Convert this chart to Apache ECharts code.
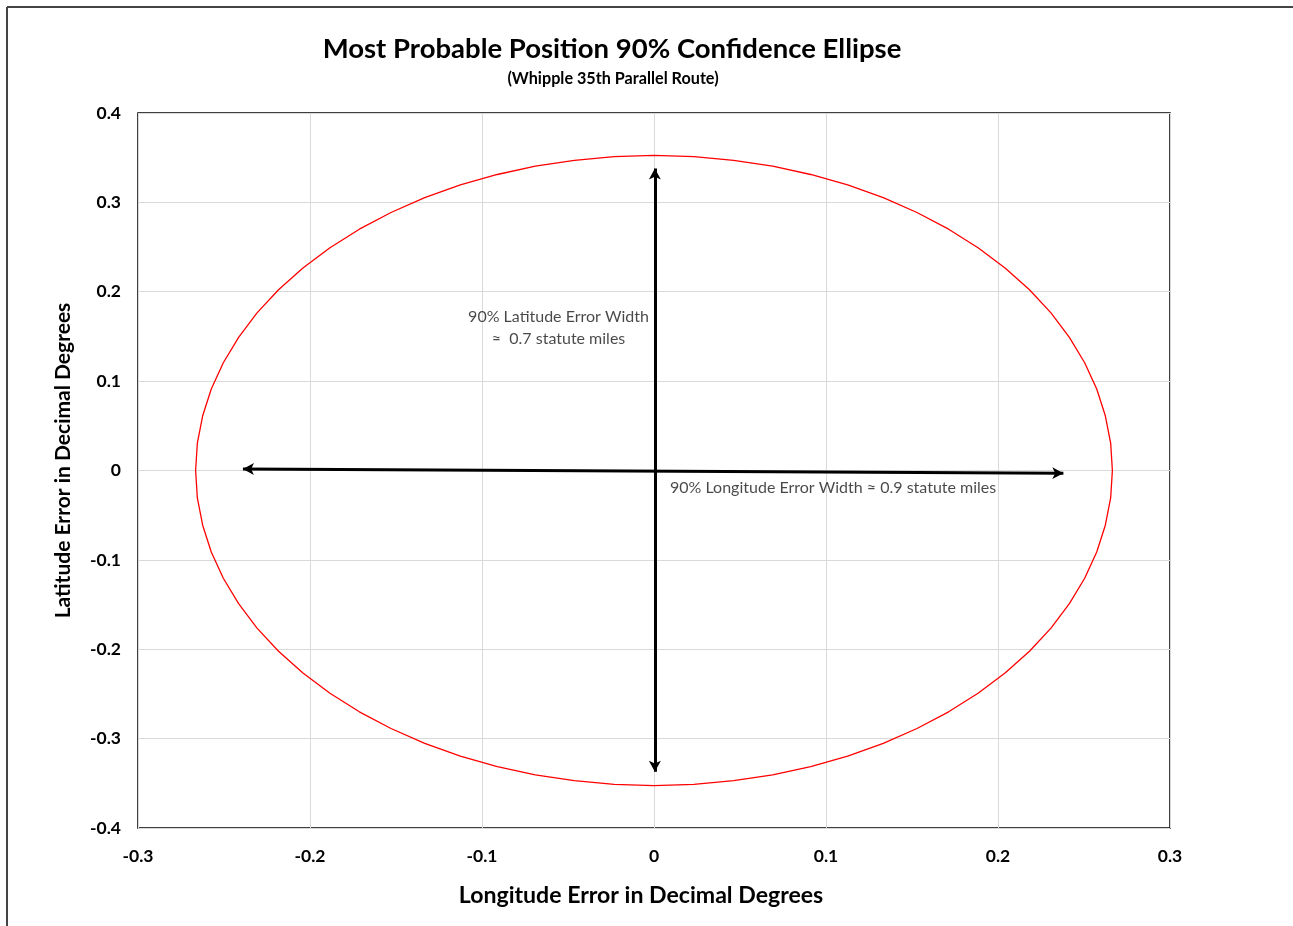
<!DOCTYPE html>
<html><head><meta charset="utf-8">
<script src="https://cdn.jsdelivr.net/npm/echarts@6/dist/echarts.min.js"></script>
<style>html,body{margin:0;padding:0;background:#fff}#c{width:1293px;height:926px}</style>
</head><body><div id="c"></div>
<script>
// Ellipse outline (longitude, latitude error in decimal degrees), every 5 degrees
const ellipseX = [0.2665,0.2655,0.2624,0.2574,0.2504,0.2415,0.2308,0.2183,0.2041,0.1884,0.1713,0.1529,0.1333,0.1126,0.0911,0.0690,0.0463,0.0232,0,
  -0.0232,-0.0463,-0.0690,-0.0911,-0.1126,-0.1333,-0.1529,-0.1713,-0.1884,-0.2041,-0.2183,-0.2308,-0.2415,-0.2504,-0.2574,-0.2624,-0.2655,-0.2665,
  -0.2655,-0.2624,-0.2574,-0.2504,-0.2415,-0.2308,-0.2183,-0.2041,-0.1884,-0.1713,-0.1529,-0.1333,-0.1126,-0.0911,-0.0690,-0.0463,-0.0232,0,
  0.0232,0.0463,0.0690,0.0911,0.1126,0.1333,0.1529,0.1713,0.1884,0.2041,0.2183,0.2308,0.2415,0.2504,0.2574,0.2624,0.2655,0.2665];
const ellipseY = [0,0.0307,0.0612,0.0912,0.1206,0.1490,0.1763,0.2022,0.2266,0.2492,0.2700,0.2887,0.3053,0.3195,0.3312,0.3405,0.3471,0.3512,0.3525,
  0.3512,0.3471,0.3405,0.3312,0.3195,0.3053,0.2887,0.2700,0.2492,0.2266,0.2022,0.1763,0.1490,0.1206,0.0912,0.0612,0.0307,0,
  -0.0307,-0.0612,-0.0912,-0.1206,-0.1490,-0.1763,-0.2022,-0.2266,-0.2492,-0.2700,-0.2887,-0.3053,-0.3195,-0.3312,-0.3405,-0.3471,-0.3512,-0.3525,
  -0.3512,-0.3471,-0.3405,-0.3312,-0.3195,-0.3053,-0.2887,-0.2700,-0.2492,-0.2266,-0.2022,-0.1763,-0.1490,-0.1206,-0.0912,-0.0612,-0.0307,0];
// Arrows: [x1, y1, x2, y2]
const lonArrow = [-0.239, 0.0017, 0.238, -0.003];
const latArrow = [0.0005, -0.337, 0.0005, 0.338];
// Annotations: [x, y, text]
const latNote = [-0.0555, 0.160, '90% Latitude Error Width\n≈  0.7 statute miles'];
const lonNote = [0.0093, -0.0196, '90% Longitude Error Width ≈ 0.9 statute miles'];
const xTicks = {min: -0.3, max: 0.3, interval: 0.1};
const yTicks = {min: -0.4, max: 0.4, interval: 0.1};
const titleText = 'Most Probable Position 90% Confidence Ellipse';
const subtitleText = '(Whipple 35th Parallel Route)';
const xName = 'Longitude Error in Decimal Degrees';
const yName = 'Latitude Error in Decimal Degrees';

const FONT = 'Lato, "Open Sans", sans-serif';
const fmt = v => { const r = Math.round(v * 10) / 10; return r === 0 ? '0' : String(r); };
const chart = echarts.init(document.getElementById('c'), null, {renderer: 'canvas'});
const ellipse = ellipseX.map((x, i) => [x, ellipseY[i]]);
chart.setOption({
  animation: false,
  backgroundColor: '#fff',
  title: [
    {text: titleText, left: 607, textAlign: 'center', top: 30,
      textStyle: {fontFamily: FONT, fontWeight: 'bold', fontSize: 27.5, color: '#000'}},
    {text: subtitleText, left: 608, textAlign: 'center', top: 66,
      textStyle: {fontFamily: FONT, fontWeight: 'bold', fontSize: 16.2, color: '#000'}}
  ],
  grid: {left: 138, right: 123, top: 113, bottom: 98, show: true, borderColor: '#000', borderWidth: 1.5, backgroundColor: 'transparent', containLabel: false},
  xAxis: {
    type: 'value', min: xTicks.min, max: xTicks.max, interval: xTicks.interval,
    name: xName, nameLocation: 'middle', nameGap: 56,
    nameTextStyle: {fontFamily: FONT, fontWeight: 'bold', fontSize: 23.1, color: '#000', padding: [0, 26, 0, 0]},
    axisLine: {show: false}, axisTick: {show: false},
    axisLabel: {formatter: fmt, margin: 19, fontFamily: FONT, fontWeight: 'bold', fontSize: 17.5, color: '#000'},
    splitLine: {show: true, lineStyle: {color: '#d9d9d9', width: 1}}
  },
  yAxis: {
    type: 'value', min: yTicks.min, max: yTicks.max, interval: yTicks.interval,
    name: yName, nameLocation: 'middle', nameGap: 64, nameRotate: 90,
    nameTextStyle: {fontFamily: FONT, fontWeight: 'bold', fontSize: 21, color: '#000', padding: [0, 0, 0, 20]},
    axisLine: {show: false}, axisTick: {show: false},
    axisLabel: {formatter: fmt, margin: 17, fontFamily: FONT, fontWeight: 'bold', fontSize: 17.5, color: '#000'},
    splitLine: {show: true, lineStyle: {color: '#d9d9d9', width: 1}}
  },
  series: [
    {
      type: 'line', data: ellipse, smooth: false, showSymbol: false, symbol: 'none',
      lineStyle: {color: '#ff0000', width: 1.3}, z: 3
    },
    {
      type: 'line', data: [], z: 4,
      markLine: {
        silent: true, symbol: ['arrow', 'arrow'], symbolSize: [9, 11],
        lineStyle: {color: '#000', width: 3, type: 'solid'}, label: {show: false},
        data: [
          [{coord: [lonArrow[0], lonArrow[1]]}, {coord: [lonArrow[2], lonArrow[3]]}],
          [{coord: [latArrow[0], latArrow[1]]}, {coord: [latArrow[2], latArrow[3]]}]
        ]
      }
    },
    {
      type: 'scatter', symbolSize: 0, z: 5, silent: true,
      data: [
        {value: [latNote[0], latNote[1]], label: {show: true, position: 'inside', formatter: latNote[2], align: 'center', verticalAlign: 'middle', lineHeight: 22}},
        {value: [lonNote[0], lonNote[1]], label: {show: true, position: 'inside', formatter: lonNote[2], align: 'left', verticalAlign: 'middle'}}
      ],
      label: {fontFamily: FONT, fontSize: 16, color: '#1a1a1a'}
    }
  ],
  graphic: [
    {type: 'line', shape: {x1: 7, y1: 7, x2: 1293, y2: 7}, style: {stroke: '#444', lineWidth: 2}},
    {type: 'line', shape: {x1: 7, y1: 7, x2: 7, y2: 926}, style: {stroke: '#444', lineWidth: 2}}
  ]
});
</script></body></html>
